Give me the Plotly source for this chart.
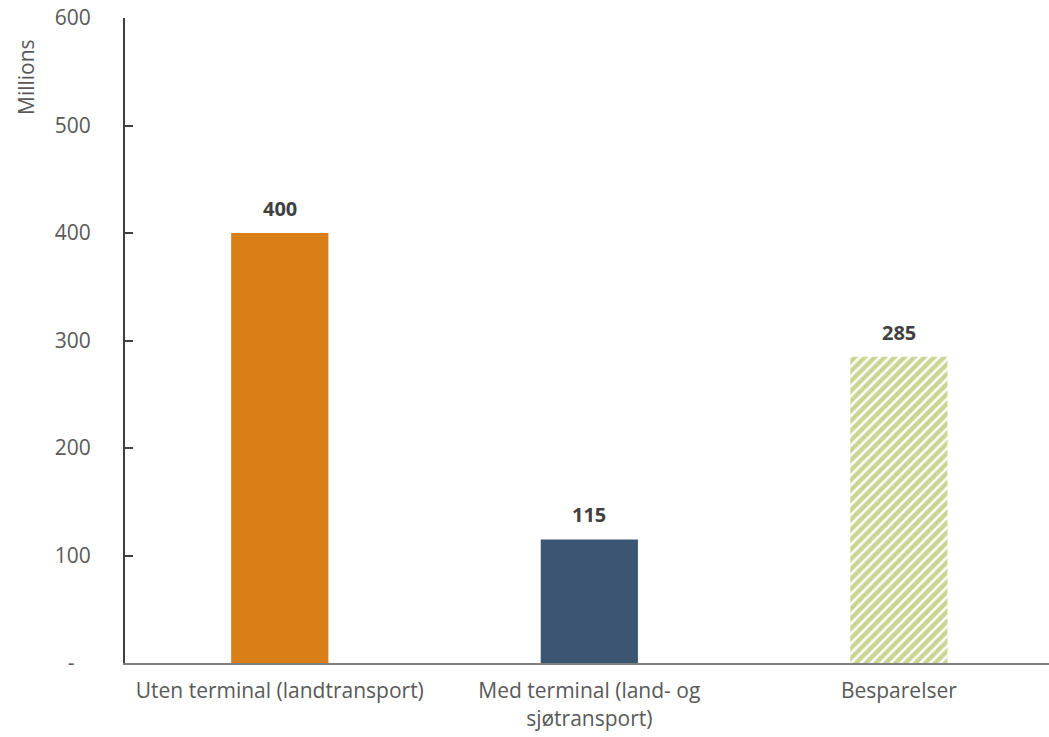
import plotly.graph_objects as go

categories = ["Uten terminal (landtransport)", "Med terminal (land- og<br>sjøtransport)", "Besparelser"]
values = [400, 115, 285]
labels = ["400", "115", "285"]
tick_vals = [0, 100, 200, 300, 400, 500, 600]
tick_text = ["-\u00a0\u00a0\u00a0", "100", "200", "300", "400", "500", "600"]

bar_colors = ["#D97F16", "#3B5572", "#FFFFFF"]
pattern_shapes = ["", "", "/"]
pattern_fg = "#98AB28"

FONT = "Open Sans, Liberation Sans, sans-serif"

fig = go.Figure()
for cat, val, col, shp in zip(categories, values, bar_colors, pattern_shapes):
    fig.add_trace(go.Bar(
        x=[cat], y=[val],
        marker=dict(color=col, line=dict(width=0),
                    pattern=dict(shape=shp, fgcolor=pattern_fg, bgcolor="#FFFFFF",
                                 size=7, solidity=0.65, fillmode="overlay")),
        width=0.314,
    ))

for cat, val, lab in zip(categories, values, labels):
    fig.add_annotation(x=cat, y=val, text=lab, showarrow=False, yanchor="bottom", yshift=9,
                       font=dict(family=FONT, size=20, color="#404040", weight="bold"))

fig.add_annotation(text="Millions", xref="paper", yref="paper", x=0, y=1, xanchor="right",
                   yanchor="top", xshift=-83, yshift=-19, textangle=-90, showarrow=False,
                   font=dict(family=FONT, size=21, color="#595959"))

fig.update_layout(
    width=1049, height=737,
    margin=dict(l=125, r=0, t=18, b=74),
    paper_bgcolor="white", plot_bgcolor="white",
    barmode="overlay",
    showlegend=False,
    font=dict(family=FONT, size=21, color="#595959"),
)
fig.update_xaxes(showline=True, linecolor="#808080", linewidth=2, ticks="", showgrid=False,
                 range=[-0.5, 2.485],
                 ticklabelstandoff=8, tickfont=dict(size=21, color="#595959"))
fig.update_yaxes(range=[0, 600], tickvals=tick_vals, ticktext=tick_text, showgrid=False,
                 showline=True, linecolor="#404040", linewidth=2, ticks="inside", ticklen=8,
                 tickcolor="#404040", tickwidth=2, ticklabelstandoff=28, zeroline=False,
                 tickfont=dict(size=21, color="#595959"))
fig.write_html("out.html", config={"displayModeBar": False},
               post_script="document.body.style.margin='0';document.body.style.overflow='hidden';")
